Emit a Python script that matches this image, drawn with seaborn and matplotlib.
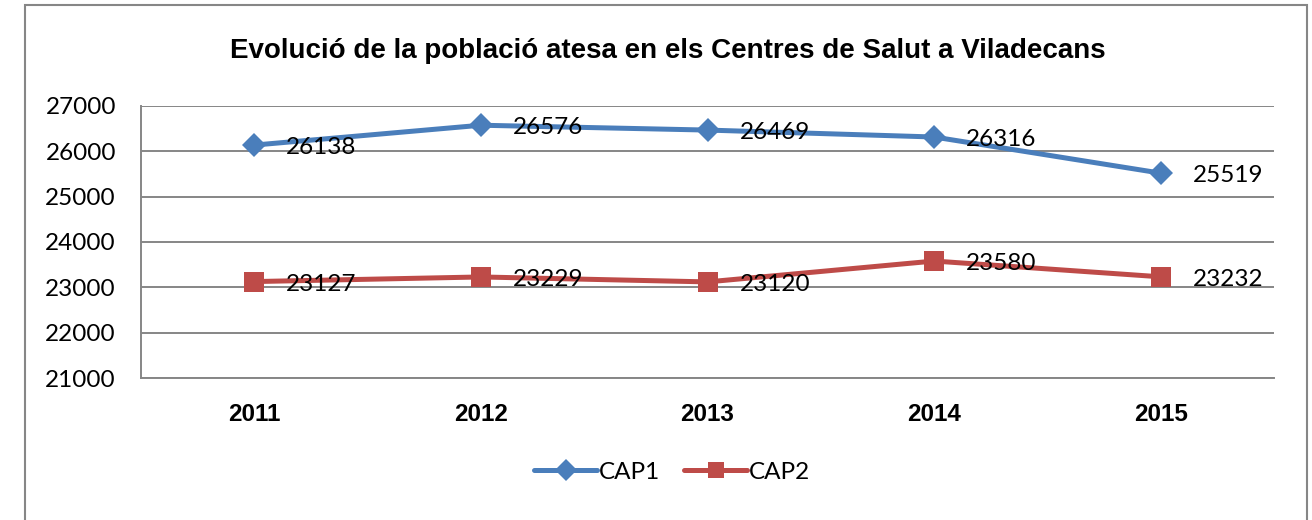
import matplotlib.pyplot as plt
import pandas as pd
import seaborn as sns
from matplotlib.patches import Rectangle

years = ['2011', '2012', '2013', '2014', '2015']
cap1 = [26138, 26576, 26469, 26316, 25519]
cap2 = [23127, 23229, 23120, 23580, 23232]
series_names = ['CAP1', 'CAP2']
colors = ['#4A7EBB', '#BE4B48']
title = 'Evolució de la població atesa en els Centres de Salut a Viladecans'


def plot_chart():
    df = pd.DataFrame({
        'any': years * 2,
        'valor': cap1 + cap2,
        'serie': ['CAP1'] * len(years) + ['CAP2'] * len(years),
    })

    sns.set_style('white')
    plt.rcParams['font.family'] = ['Lato', 'DejaVu Sans']
    plt.rcParams['text.color'] = 'black'
    plt.rcParams['xtick.color'] = 'black'
    plt.rcParams['ytick.color'] = 'black'
    grid_c = '#868686'

    fig = plt.figure(figsize=(13.12, 5.2), dpi=100)
    ax = fig.add_axes([141 / 1312, 1 - 378 / 520, 1133 / 1312, 272 / 520])

    sns.lineplot(data=df, x='any', y='valor', hue='serie', style='serie',
                 hue_order=series_names, palette=colors,
                 markers={'CAP1': 'D', 'CAP2': 's'}, dashes=False,
                 markersize=12, linewidth=3.6, markeredgewidth=0,
                 ax=ax, legend=True, sort=False)
    # square a bit bigger than diamond
    for line in ax.lines:
        if line.get_marker() == 's':
            line.set_markersize(14)

    ax.set_xlim(-0.5, 4.5)
    ax.set_ylim(21000, 27000)
    ax.set_yticks(range(21000, 27001, 1000))
    ax.yaxis.grid(True, color=grid_c, linewidth=1.4)
    ax.set_axisbelow(True)
    ax.set_xlabel('')
    ax.set_ylabel('')
    for s in ['top', 'right']:
        ax.spines[s].set_visible(False)
    for s in ['left', 'bottom']:
        ax.spines[s].set_color(grid_c)
        ax.spines[s].set_linewidth(1.4)
    ax.tick_params(axis='y', length=0, pad=18, labelsize=17.5)
    ax.tick_params(axis='x', length=0, pad=18)
    for lab in ax.get_xticklabels():
        lab.set_fontfamily('Liberation Sans')
        lab.set_fontweight('bold')
        lab.set_fontsize(17.5)

    for vals in (cap1, cap2):
        for i, v in enumerate(vals):
            ax.annotate(str(v), (i, v), xytext=(23, -2), textcoords='offset points',
                        ha='left', va='center', fontsize=17.5)

    fig.text(668 / 1312, 1 - 51 / 520, title, ha='center', va='center',
             fontsize=20, fontweight='bold', family='Liberation Sans')

    handles, labels = ax.get_legend_handles_labels()
    for h in handles:
        h.set_linewidth(3.6)
        h.set_markersize(11)
    ax.legend(handles, labels, loc='center', bbox_to_anchor=(672 / 1312, 1 - 472 / 520),
              bbox_transform=fig.transFigure, ncol=2, frameon=False, fontsize=17.5,
              handlelength=2.6, handletextpad=0.05, columnspacing=1.0)

    fig.add_artist(Rectangle((25 / 1312, -0.2), 1282 / 1312, 1.2 - 5 / 520,
                             transform=fig.transFigure, fill=False,
                             edgecolor=grid_c, linewidth=1.5, clip_on=False))

    fig.savefig('out.png', dpi=100)


if __name__ == "__main__":
    plot_chart()
